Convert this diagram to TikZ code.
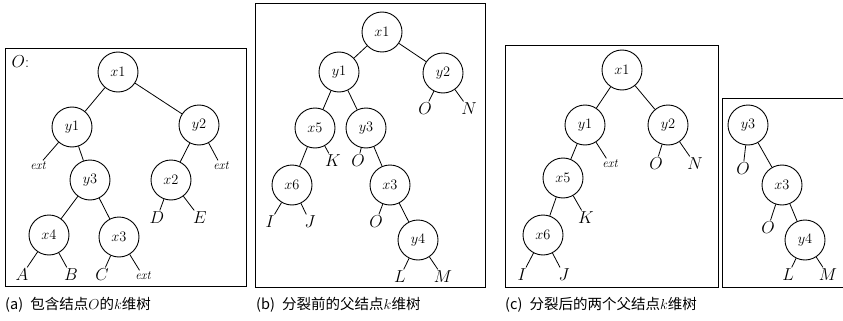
\documentclass[tikz,border=0pt]{standalone}
\usepackage{fontspec}
\newfontfamily\cjk{Noto Sans CJK SC}
\begin{document}
\begin{tikzpicture}[x=1pt,y=-1pt,
  tn/.style={circle,draw,minimum size=40pt,inner sep=0pt,line width=0.9pt,font=\fontsize{15}{17}\selectfont},
  lf/.style={inner sep=1.5pt,font=\fontsize{16}{18}\selectfont},
  ex/.style={inner sep=1.5pt,font=\fontsize{12.5}{14}\selectfont\itshape},
  panel/.style={draw,line width=0.9pt},
  captext/.style={anchor=west,inner sep=0pt,font=\fontsize{14.5}{17}\selectfont},
  ln/.style={line width=0.8pt}]
\useasboundingbox (0,0) rectangle (843,321);
% ---------- panel (a)
\draw[panel] (5,48) rectangle (246,286);
\node[lf,anchor=west] (aO) at (10,62) {$O$:};
\node[tn] (a1) at (118,72) {$x1$};
\node[tn] (ay1) at (72,127) {$y1$};
\node[tn] (ay2) at (199,125) {$y2$};
\node[ex] (aext1) at (38,166) {ext};
\node[tn] (ay3) at (90,180) {$y3$};
\node[tn] (ax2) at (171,180) {$x2$};
\node[ex] (aext2) at (221,166) {ext};
\node[lf] (aD) at (157,218) {$D$};
\node[lf] (aE) at (200,218) {$E$};
\node[tn] (ax4) at (49,235) {$x4$};
\node[tn] (ax3) at (119,237) {$x3$};
\node[lf] (aA) at (22,275) {$A$};
\node[lf] (aB) at (71,275) {$B$};
\node[lf] (aC) at (102,275) {$C$};
\node[ex] (aext3) at (143,276) {ext};
\draw[ln] (a1)--(ay1) (a1)--(ay2) (ay1)--(aext1) (ay1)--(ay3)
  (ay2)--(ax2) (ay2)--(aext2) (ax2)--(aD) (ax2)--(aE)
  (ay3)--(ax4) (ay3)--(ax3) (ax4)--(aA) (ax4)--(aB) (ax3)--(aC) (ax3)--(aext3);
% ---------- panel (b)
\draw[panel] (255,3) rectangle (485,287);
\node[tn] (b1) at (382,32) {$x1$};
\node[tn] (by1) at (339,72) {$y1$};
\node[tn] (by2) at (443,73) {$y2$};
\node[lf] (bO1) at (425,109) {$O$};
\node[lf] (bN) at (469,109) {$N$};
\node[tn] (bx5) at (315,128) {$x5$};
\node[tn] (by3) at (366,128) {$y3$};
\node[lf] (bK) at (333,161) {$K$};
\node[lf] (bO2) at (358,161) {$O$};
\node[tn] (bx6) at (292,185) {$x6$};
\node[tn] (bx3) at (390,185) {$x3$};
\node[lf] (bI) at (270,222) {$I$};
\node[lf] (bJ) at (310,222) {$J$};
\node[lf] (bO3) at (376,222) {$O$};
\node[tn] (by4) at (418,240) {$y4$};
\node[lf] (bL) at (400,277) {$L$};
\node[lf] (bM) at (443,277) {$M$};
\draw[ln] (b1)--(by1) (b1)--(by2) (by2)--(bO1) (by2)--(bN)
  (by1)--(bx5) (by1)--(by3) (bx5)--(bK) (bx5)--(bx6) (by3)--(bO2) (by3)--(bx3)
  (bx6)--(bI) (bx6)--(bJ) (bx3)--(bO3) (bx3)--(by4) (by4)--(bL) (by4)--(bM);
% ---------- panel (c)
\draw[panel] (505,45) rectangle (718,287);
\node[tn] (c1) at (622,70) {$x1$};
\node[tn] (cy1) at (585,125) {$y1$};
\node[tn] (cy2) at (668,125) {$y2$};
\node[ex] (cext) at (610,164) {ext};
\node[lf] (cO1) at (656,164) {$O$};
\node[lf] (cN) at (695,164) {$N$};
\node[tn] (cx5) at (563,178) {$x5$};
\node[lf] (cK) at (586,218) {$K$};
\node[tn] (cx6) at (543,235) {$x6$};
\node[lf] (cI) at (522,275) {$I$};
\node[lf] (cJ) at (564,275) {$J$};
\draw[ln] (c1)--(cy1) (c1)--(cy2) (cy1)--(cx5) (cy1)--(cext)
  (cy2)--(cO1) (cy2)--(cN) (cx5)--(cx6) (cx5)--(cK) (cx6)--(cI) (cx6)--(cJ);
\draw[panel] (722,98) -- (843,98) (722,98) -- (722,287) -- (843,287);
\node[tn] (dy3) at (748,125) {$y3$};
\node[lf] (dO1) at (743,169) {$O$};
\node[tn] (dx3) at (782,185) {$x3$};
\node[lf] (dO2) at (768,228) {$O$};
\node[tn] (dy4) at (805,240) {$y4$};
\node[lf] (dL) at (788,275) {$L$};
\node[lf] (dM) at (828,275) {$M$};
\draw[ln] (dy3)--(dO1) (dy3)--(dx3) (dx3)--(dO2) (dx3)--(dy4) (dy4)--(dL) (dy4)--(dM);
% ---------- captions
\node[captext] (capa) at (5,305) {{\cjk (a)\enspace 包含结点}$O${\cjk 的}$k${\cjk 维树}};
\node[captext] (capb) at (256,305) {{\cjk (b)\enspace 分裂前的父结点}$k${\cjk 维树}};
\node[captext] (capc) at (505,305) {{\cjk (c)\enspace 分裂后的两个父结点}$k${\cjk 维树}};
\end{tikzpicture}
\end{document}
